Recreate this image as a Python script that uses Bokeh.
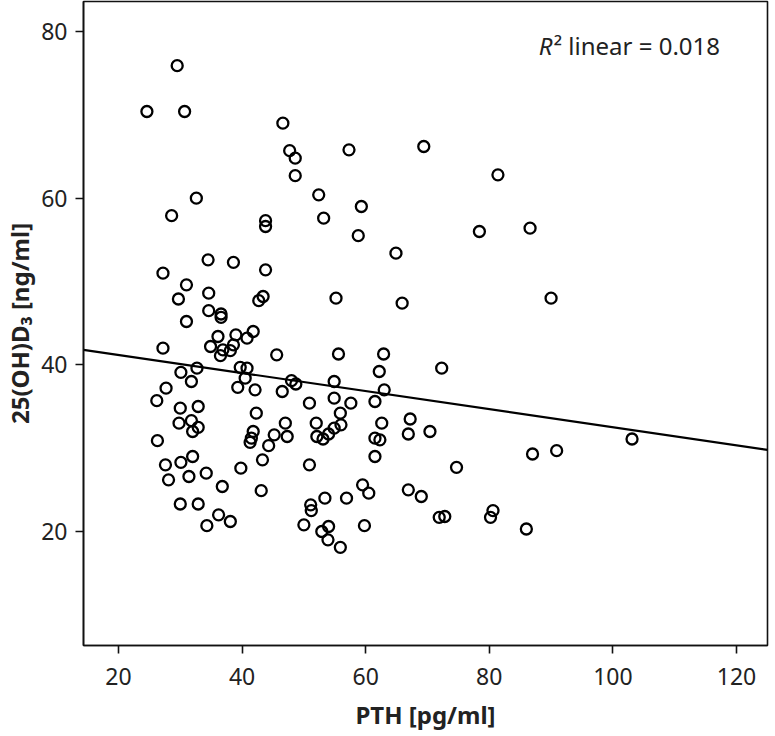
from bokeh.plotting import figure
from bokeh.models import FixedTicker, Label
from bokeh.embed import file_html
from bokeh.resources import INLINE

# PTH [pg/ml]
pth = [29.5, 24.6, 30.7, 46.6, 47.7, 48.6, 48.6, 32.6, 28.6, 43.8,
       43.8, 34.5, 38.6, 27.2, 43.8, 31.0, 34.6, 29.7, 43.4, 42.7,
       34.6, 36.6, 36.6, 31.0, 36.1, 39.0, 41.8, 40.8, 34.9, 38.6,
       36.9, 38.1, 36.5, 27.2, 45.6, 32.7, 30.1, 39.7, 40.8, 31.8,
       40.5, 48.0, 48.7, 27.7, 39.3, 42.1, 46.5, 26.2, 30.0, 32.9,
       42.3, 29.8, 31.8, 32.9, 32.0, 41.8, 41.5, 41.3, 47.0, 45.2,
       47.3, 44.3, 26.3, 32.0, 27.6, 30.1, 43.3, 39.8, 28.1, 31.4,
       34.2, 36.8, 43.1, 30.0, 32.9, 36.2, 34.3, 38.1,
       57.3, 69.4, 52.4, 59.3, 53.2, 58.8, 64.9, 55.2, 65.9,
       55.6, 62.9, 72.3, 62.2, 54.9, 63.0, 54.9, 50.9, 57.6, 61.5,
       55.9, 52.0, 56.0, 54.9, 62.6, 67.2, 66.9, 70.4, 54.0, 52.1,
       53.1, 61.5, 62.3, 61.5, 50.9, 74.7, 59.5, 60.5, 66.9, 69.0,
       53.4, 56.9, 51.1, 51.2, 71.9, 72.8, 50.0, 52.9, 54.0, 59.8,
       53.9, 55.9,
       81.4, 78.4, 86.6, 90.0, 87.0, 90.9, 103.1, 80.6, 80.2, 86.0]

# 25(OH)D3 [ng/ml]
vitd = [75.9, 70.4, 70.4, 69.0, 65.7, 64.8, 62.7, 60.0, 57.9, 57.3,
        56.6, 52.6, 52.3, 51.0, 51.4, 49.6, 48.6, 47.9, 48.2, 47.7,
        46.5, 46.1, 45.7, 45.2, 43.4, 43.6, 44.0, 43.2, 42.2, 42.4,
        41.8, 41.7, 41.1, 42.0, 41.2, 39.6, 39.1, 39.7, 39.6, 38.0,
        38.4, 38.1, 37.7, 37.2, 37.3, 37.0, 36.8, 35.7, 34.8, 35.0,
        34.2, 33.0, 33.3, 32.5, 32.0, 32.0, 31.2, 30.7, 33.0, 31.6,
        31.4, 30.3, 30.9, 29.0, 28.0, 28.3, 28.6, 27.6, 26.2, 26.6,
        27.0, 25.4, 24.9, 23.3, 23.3, 22.0, 20.7, 21.2,
        65.8, 66.2, 60.4, 59.0, 57.6, 55.5, 53.4, 48.0, 47.4,
        41.3, 41.3, 39.6, 39.2, 38.0, 37.0, 36.0, 35.4, 35.4, 35.6,
        34.2, 33.0, 32.8, 32.4, 33.0, 33.5, 31.7, 32.0, 31.7, 31.4,
        31.1, 31.2, 31.0, 29.0, 28.0, 27.7, 25.6, 24.6, 25.0, 24.2,
        24.0, 24.0, 23.2, 22.5, 21.7, 21.8, 20.8, 20.0, 20.6, 20.7,
        19.0, 18.1,
        62.8, 56.0, 56.4, 48.0, 29.3, 29.7, 31.1, 22.5, 21.7, 20.3]

# linear fit shown on the chart
fit_intercept = 43.36
fit_slope = -0.1085
r2_text = "² linear = 0.018"

x_ticks = [20, 40, 60, 80, 100, 120]
y_ticks = [20, 40, 60, 80]

x_min, x_max = 14.34, 125.02
y_min, y_max = 6.32, 83.6

p = figure(frame_width=684, frame_height=644,
           x_range=(x_min, x_max), y_range=(y_min, y_max),
           output_backend="svg", toolbar_location=None,
           min_border_left=76, min_border_right=2,
           min_border_top=1, min_border_bottom=84)

p.background_fill_color = "white"
p.border_fill_color = "white"
p.outline_line_color = "#111111"
p.outline_line_width = 1.6
p.xgrid.visible = False
p.ygrid.visible = False

for ax in (p.xaxis[0], p.yaxis[0]):
    ax.axis_line_color = "#111111"
    ax.axis_line_width = 1.6
    ax.major_tick_line_color = "#111111"
    ax.major_tick_line_width = 1.6
    ax.major_tick_in = 0
    ax.major_tick_out = 8
    ax.minor_tick_line_color = None
    ax.major_label_text_font = "Noto Sans"
    ax.major_label_text_font_size = "23px"
    ax.major_label_text_color = "#222222"
    ax.axis_label_text_font = "Noto Sans"
    ax.axis_label_text_font_size = "24px"
    ax.axis_label_text_font_style = "bold"
    ax.axis_label_text_color = "#222222"

p.xaxis.ticker = FixedTicker(ticks=x_ticks)
p.yaxis.ticker = FixedTicker(ticks=y_ticks)
p.xaxis.major_label_standoff = 14
p.yaxis.major_label_standoff = 8
p.xaxis.axis_label = "PTH [pg/ml]"
p.yaxis.axis_label = "25(OH)D₃ [ng/ml]"
p.xaxis.axis_label_standoff = 10
p.yaxis.axis_label_standoff = 2

# regression line
lx = [x_min, x_max]
ly = [fit_intercept + fit_slope * v for v in lx]
p.line(lx, ly, line_color="black", line_width=2.2)

p.scatter(pth, vitd, marker="circle", size=11, fill_color=None,
          line_color="black", line_width=2.3)

lab_r = Label(x=88.0, y=78.3, text="R", text_font="Noto Sans",
              text_font_size="24px", text_font_style="italic",
              text_color="#222222", text_baseline="middle")
lab_rest = Label(x=88.0, y=78.3, x_offset=15, text=r2_text, text_font="Noto Sans",
                 text_font_size="24px", text_color="#222222",
                 text_baseline="middle")
p.add_layout(lab_r)
p.add_layout(lab_rest)

open("out.html", "w").write(file_html(p, INLINE))
